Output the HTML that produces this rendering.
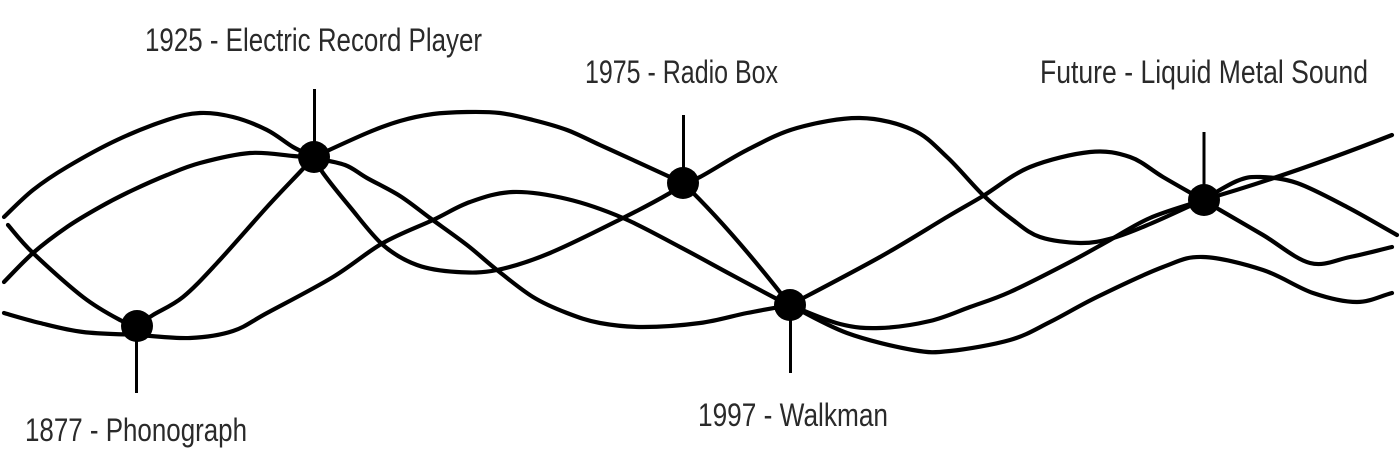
<!DOCTYPE html>
<html>
<head>
<meta charset="utf-8">
<style>
  html, body { margin: 0; padding: 0; background: #ffffff; }
  body { width: 1400px; height: 466px; overflow: hidden; }
  svg { display: block; }
  .c { fill: none; stroke: #000; stroke-width: 4.2; stroke-linecap: round; stroke-linejoin: round; }
  .s { stroke: #000; stroke-width: 3; }
  text { font-family: "Liberation Sans", "DejaVu Sans", sans-serif; font-size: 32px; fill: #2a2a2a; }
</style>
</head>
<body>
<svg width="1400" height="466" viewBox="0 0 1400 466" xmlns="http://www.w3.org/2000/svg">
  <rect width="1400" height="466" fill="#fff"/>

  <!-- stems -->
  <line class="s" x1="136.5" y1="326" x2="136.5" y2="393"/>
  <line class="s" x1="314.5" y1="157" x2="314.5" y2="89"/>
  <line class="s" x1="683.5" y1="183" x2="683.5" y2="115"/>
  <line class="s" x1="790.5" y1="305" x2="790.5" y2="373"/>
  <line class="s" x1="1204" y1="200" x2="1204" y2="132"/>

  <!-- curves -->
  <!-- A -->
  <path class="c" d="M4 217 C8.8 212.5 22.5 198.3 33 190 S53 175.3 67 167 S100.3 147.8 117 140 S153.2 124.5 167 120 S189 113.5 200 113 S221.8 114.2 233 117 S257 125 267 130 S285.2 142.5 293 147 S307 153.7 314 157"/>
  <!-- B -->
  <path class="c" d="M4 282 C8.8 277.2 22.5 262.2 33 253 S55.8 234.7 67 227 S89 213.2 100 207 S121.8 195.3 133 190 S155.8 179.5 167 175 S186.2 166.7 200 163 S234.5 154.2 250 153 S282.3 155.2 293 156 S307 157.3 314 158"/>
  <!-- C1 -->
  <path class="c" d="M8 225 C12.2 229.7 20.5 241 33 253 S68.5 285.8 83 297 S111 315.2 120 320 S131.3 324 137 326"/>
  <!-- C2 -->
  <path class="c" d="M137 326 C142.3 322.3 145.3 319.8 153 315 S172.3 305.7 183 297 S203 278 217 263 S253.2 222.2 267 207 S292.2 180.3 300 172 S309.3 162 314 157"/>
  <!-- D -->
  <path class="c" d="M4 313 C10 314.7 26.8 319.8 40 323 S66.8 330 83 332 S119.2 334 137 335 S174 338.7 190 338 S220.2 335.2 233 331 S250.3 322 267 313 S313.7 288.7 333 277 S366.3 252.5 383 243 S418.5 226.8 433 220 S456.7 206.7 470 202 S496.8 192.5 513 192 S548.7 194.7 567 199 S604.2 210 623 218 S662.2 237.7 680 247 S714.2 265.5 730 274 S765 292.8 775 298 S785 302.7 790 305"/>
  <!-- E1 top -->
  <path class="c" d="M314 157 C322.8 153 352.7 139 367 133 S389 124.2 400 121 S421.8 115.5 433 114 S455.8 112.2 467 112 S489 111.7 500 113 S521.8 117.2 533 120 S555.8 125.8 567 130 S589 140 600 145 S619.2 153.7 633 160 S666.3 175.3 683 183"/>
  <!-- E1b N3->N4 -->
  <path class="c" d="M683 183 Q730 228 790 305"/>
  <!-- E2 -->
  <path class="c" d="M314 158 C319.2 159.2 336.2 161.7 345 165 S357.8 172.8 367 178 S389.5 189.3 400 196 S418.8 209.8 430 218 S455.8 236.3 467 245 S486 261.3 497 270 S521.3 289.8 533 297 S555.8 308.7 567 313 S587.3 320.7 600 323 S626.3 327 643 327 S682.7 325.3 700 323 S732 316 747 313 S775.7 307.7 790 305"/>
  <!-- E3 -->
  <path class="c" d="M314 157 C315.5 159.7 317 164.7 323 173 S340 195 350 207 S371.8 235.3 383 245 S404.7 260.5 417 265 S443.7 271.2 457 272 S481.5 273.2 497 270 S529 261.7 550 253 S603 228 623 218 S660 198.8 670 193 S678.7 179.7 683 183"/>
  <!-- F: N3 -> peak -> trough -> N5 -->
  <path class="c" d="M683 183 C685.8 182 689.3 182.5 700 177 S730.8 158.2 747 150 S778.2 133.3 797 128 S840.7 117.7 860 118 S898.5 123.5 913 130 S935.3 146.2 947 157 S972 184.5 983 195 S1003.5 213 1013 220 S1028.8 233.2 1040 237 S1067.8 242.8 1080 243 S1101.3 241.2 1113 238 S1135 230.3 1150 224 S1185.3 208 1203 200"/>
  <!-- G: N4 up -> peak -> N5 -->
  <path class="c" d="M790 305 C805 297 853.8 271.7 880 257 S929.8 227.2 947 217 S969.2 204.3 983 196 S1012.2 174.3 1030 167 S1073.3 153.7 1090 152 S1117.8 152.8 1130 157 S1150.8 169.8 1163 177 S1189.7 192.3 1203 200"/>
  <!-- H: N4 middle -> N5 -->
  <path class="c" d="M790 305 C798.3 308.2 825 320.2 840 324 S865 328.5 880 328 S915 324.5 930 321 S956.7 311.8 970 307 S993.3 299.5 1010 292 S1053.3 270.7 1070 262 S1096.7 247.3 1110 240 S1134.5 224.7 1150 218 S1185.3 206 1203 200"/>
  <!-- I: N4 bottom -> right -->
  <path class="c" d="M790 305 C799.5 309.7 826.5 325.5 847 333 S895.8 347 913 350 S933.8 352.7 950 351 S993.3 344.8 1010 340 S1035.5 329.2 1050 322 S1078.2 306.2 1097 297 S1145.3 273.7 1163 267 S1186.3 256.5 1203 257 S1244.7 264 1263 270 S1297.3 287.7 1313 293 S1343.8 302 1357 302 S1380.3 296 1392 293"/>
  <!-- J: long line -->
  <path class="c" d="M1203 200 Q1290 175 1392 135"/>
  <!-- K: bump -->
  <path class="c" d="M1203 200 C1208.7 196.8 1227.5 184.8 1237 181 S1250 176.7 1260 177 S1282.5 178 1297 183 S1330.3 198.3 1347 207 S1380.3 225.7 1397 235"/>
  <!-- L: down trough -->
  <path class="c" d="M1203 200 C1205.8 201.7 1210 204.2 1220 210 S1248 226.2 1263 235 S1295.5 259.3 1310 263 S1336.3 259.7 1350 257 S1378 250.3 1392 247"/>

  <!-- nodes -->
  <circle cx="137" cy="326" r="16" fill="#000"/>
  <circle cx="314" cy="157" r="16" fill="#000"/>
  <circle cx="683" cy="183" r="16" fill="#000"/>
  <circle cx="790" cy="305" r="16" fill="#000"/>
  <circle cx="1204" cy="200" r="16" fill="#000"/>

  <!-- labels -->
  <text x="145" y="51" textLength="337" lengthAdjust="spacingAndGlyphs">1925 - Electric Record Player</text>
  <text x="585" y="83" textLength="193" lengthAdjust="spacingAndGlyphs">1975 - Radio Box</text>
  <text x="1040" y="83" textLength="328" lengthAdjust="spacingAndGlyphs">Future - Liquid Metal Sound</text>
  <text x="25" y="441" textLength="222" lengthAdjust="spacingAndGlyphs">1877 - Phonograph</text>
  <text x="698" y="426" textLength="190" lengthAdjust="spacingAndGlyphs">1997 - Walkman</text>
</svg>
</body>
</html>
